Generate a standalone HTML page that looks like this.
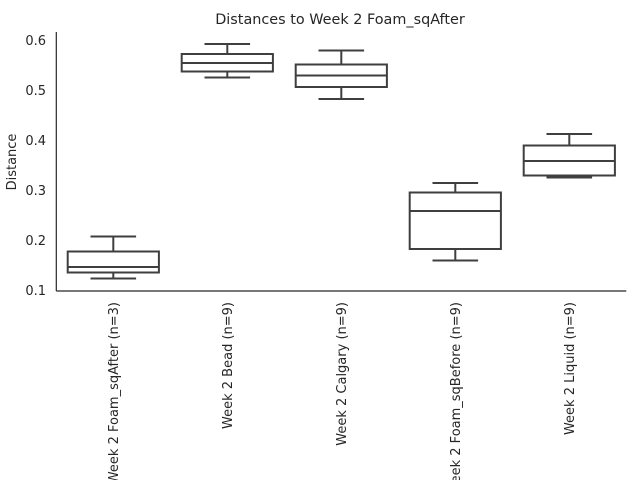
<!DOCTYPE html>
<html><head><meta charset="utf-8"><style>
html,body{margin:0;padding:0;background:#fff;}
svg{display:block;font-family:"DejaVu Sans","Liberation Sans",sans-serif;}
</style></head><body>
<svg id="chart" width="640" height="480" viewBox="0 0 640 480">
<text x="340" y="24" text-anchor="middle" font-size="14.4" fill="#262626">Distances to Week 2 Foam_sqAfter</text>
<text transform="translate(16,162) rotate(-90)" text-anchor="middle" font-size="13" fill="#262626">Distance</text>
<g id="yticks"></g>
<g id="xticks"></g>
<g id="boxes"></g>
<line x1="56.3" y1="32" x2="56.3" y2="291" stroke="#262626" stroke-width="1.2"/>
<line x1="56.3" y1="291" x2="626.3" y2="291" stroke="#262626" stroke-width="1.2"/>
</svg>
<script>
const categories = ["Week 2 Foam_sqAfter (n=3)","Week 2 Bead (n=9)","Week 2 Calgary (n=9)","Week 2 Foam_sqBefore (n=9)","Week 2 Liquid (n=9)"];
const whiskerLow = [0.123,0.525,0.482,0.159,0.325];
const q1 = [0.135,0.537,0.506,0.182,0.329];
const medians = [0.146,0.554,0.529,0.258,0.358];
const q3 = [0.177,0.572,0.551,0.295,0.389];
const whiskerHigh = [0.207,0.592,0.579,0.314,0.412];
const yTicks = [0.1,0.2,0.3,0.4,0.5,0.6];

const NS="http://www.w3.org/2000/svg";
const x0=56.3, x1=626.3;
const band=(x1-x0)/categories.length;
function xs(i){return x0+(i+0.5)*band;}
function ys(v){return 290-(v-0.1)*500;}
function mk(tag,attrs,parent){const e=document.createElementNS(NS,tag);for(const k in attrs)e.setAttribute(k,attrs[k]);parent.appendChild(e);return e;}
const yg=document.getElementById('yticks'), xg=document.getElementById('xticks'), bg=document.getElementById('boxes');
yTicks.forEach(t=>{
  const tx=mk('text',{x:46,y:ys(t)+5,'text-anchor':'end','font-size':13,fill:'#262626'},yg);
  
  
  tx.textContent=t.toFixed(1);
});
const C='#3f3f3f', W=2;
categories.forEach((c,i)=>{
  const cx=xs(i), bw=band*0.8, cw=bw/2;
  const g=mk('g',{},bg);
  
  
  mk('line',{x1:cx,x2:cx,y1:ys(whiskerHigh[i]),y2:ys(q3[i]),stroke:C,'stroke-width':W},g);
  mk('line',{x1:cx,x2:cx,y1:ys(q1[i]),y2:ys(whiskerLow[i]),stroke:C,'stroke-width':W},g);
  mk('line',{x1:cx-cw/2,x2:cx+cw/2,y1:ys(whiskerHigh[i]),y2:ys(whiskerHigh[i]),stroke:C,'stroke-width':W},g);
  mk('line',{x1:cx-cw/2,x2:cx+cw/2,y1:ys(whiskerLow[i]),y2:ys(whiskerLow[i]),stroke:C,'stroke-width':W},g);
  mk('rect',{x:cx-bw/2,y:ys(q3[i]),width:bw,height:ys(q1[i])-ys(q3[i]),fill:'#fff',stroke:C,'stroke-width':W},g);
  mk('line',{x1:cx-bw/2,x2:cx+bw/2,y1:ys(medians[i]),y2:ys(medians[i]),stroke:C,'stroke-width':W},g);
  const t=mk('text',{transform:'translate('+(cx+4.5)+',302) rotate(-90)','text-anchor':'end','font-size':13,fill:'#262626'},xg);
  
  
  t.textContent=c;
});
</script>
</body></html>
